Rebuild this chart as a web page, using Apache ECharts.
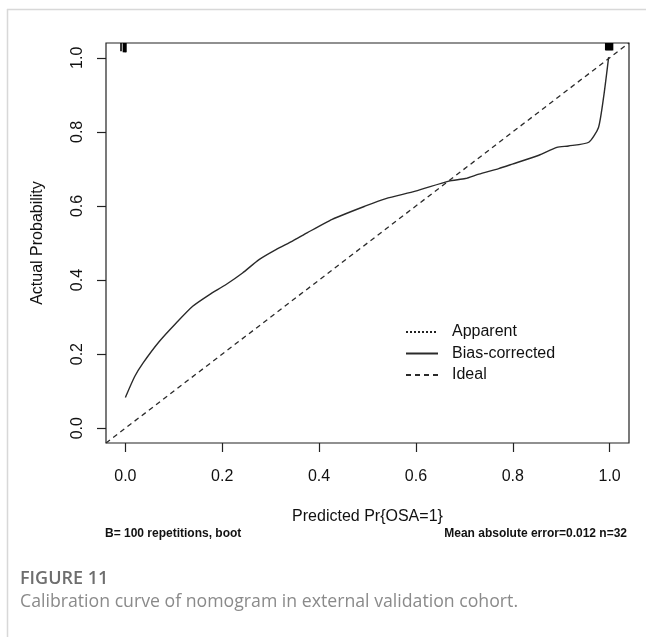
<!DOCTYPE html>
<html>
<head>
<meta charset="utf-8">
<script src="https://cdn.jsdelivr.net/npm/echarts@6/dist/echarts.min.js"></script>
<style>
  html, body { margin: 0; padding: 0; background: #fff; }
  #chart { width: 646px; height: 637px; }
</style>
</head>
<body>
<div id="chart"></div>
<script>
// Bias-corrected calibration curve (predicted vs. actual probability)
var calX = [0.000, 0.019, 0.036, 0.070, 0.105, 0.139, 0.173, 0.208, 0.242, 0.276, 0.311, 0.345, 0.376,
            0.427, 0.496, 0.538, 0.599, 0.668, 0.702, 0.730, 0.771, 0.799, 0.854, 0.891, 0.915, 0.957,
            0.977, 0.988, 0.998];
var calY = [0.083, 0.139, 0.175, 0.234, 0.284, 0.329, 0.360, 0.388, 0.419, 0.455, 0.482, 0.505, 0.528,
            0.564, 0.600, 0.620, 0.640, 0.667, 0.674, 0.686, 0.701, 0.713, 0.737, 0.758, 0.762, 0.772,
            0.812, 0.898, 1.002];
// Ideal line y = x across the plotting range
var idealX = [-0.04, 1.04];
// Rug of predicted probabilities along the top edge (position, spike length)
var rugX = [-0.009, -0.004, -0.002, 0.000, 0.001, 0.992, 0.994, 0.996, 0.998, 1.000, 1.002, 1.004, 1.006];
var rugLen = [0.022, 0.025, 0.025, 0.025, 0.025, 0.02, 0.02, 0.02, 0.02, 0.02, 0.02, 0.02, 0.02];
// Axis tick labels
var tickVals = [0, 0.2, 0.4, 0.6, 0.8, 1.0];
var axisMin = -0.04, axisMax = 1.04;

var FONT = '"Liberation Sans", Arial, sans-serif';

var chart = echarts.init(document.getElementById('chart'), null, { renderer: 'canvas' });

function fmt(v) { return Number(v).toFixed(1); }

var option = {
  animation: false,
  backgroundColor: '#fff',
  grid: {
    left: 106, right: 17, top: 43, bottom: 194,
    show: true, borderColor: '#222', borderWidth: 1.2, backgroundColor: 'transparent'
  },
  xAxis: {
    type: 'value', min: axisMin, max: axisMax,
    axisLine: { show: false, onZero: false },
    splitLine: { show: false },
    axisTick: { show: true, inside: false, length: 9, lineStyle: { color: '#222', width: 1.2 }, customValues: tickVals },
    axisLabel: { customValues: tickVals, formatter: fmt, margin: 26, fontSize: 16, color: '#111', fontFamily: FONT },
    name: 'Predicted Pr{OSA=1}', nameLocation: 'middle', nameGap: 66,
    nameTextStyle: { fontSize: 16, color: '#111', fontFamily: FONT }
  },
  yAxis: {
    type: 'value', min: axisMin, max: axisMax,
    axisLine: { show: false, onZero: false },
    splitLine: { show: false },
    axisTick: { show: true, inside: false, length: 9, lineStyle: { color: '#222', width: 1.2 }, customValues: tickVals },
    axisLabel: { customValues: tickVals, formatter: fmt, rotate: 90, margin: 20, fontSize: 16, color: '#111', fontFamily: FONT },
    name: 'Actual Probability', nameLocation: 'middle', nameGap: 60, nameRotate: 90,
    nameTextStyle: { fontSize: 16, color: '#111', fontFamily: FONT }
  },
  legend: {
    orient: 'vertical', left: 400, top: 319,
    itemWidth: 32, itemHeight: 14, itemGap: 5.5,
    itemStyle: { opacity: 0 },
    textStyle: { fontSize: 16, color: '#111', fontFamily: FONT, padding: [0, 0, 0, 9] },
    data: ['Apparent', 'Bias-corrected', 'Ideal']
  },
  series: [
    {
      name: 'Apparent', type: 'line', symbol: 'none', data: [],
      lineStyle: { color: '#222', width: 1, type: [2, 2] }
    },
    {
      name: 'Bias-corrected', type: 'line', symbol: 'none', smooth: 0.2,
      data: calX.map(function (x, i) { return [x, calY[i]]; }),
      lineStyle: { color: '#2a2a2a', width: 1.4 }
    },
    {
      name: 'Ideal', type: 'line', symbol: 'none',
      data: idealX.map(function (x) { return [x, x]; }),
      lineStyle: { color: '#2a2a2a', width: 1.3, type: [5, 4] }
    },
    {
      name: 'rug', type: 'custom', silent: true,
      data: rugX.map(function (x, i) { return [x, rugLen[i]]; }),
      renderItem: function (params, api) {
        var x = api.value(0), len = api.value(1);
        var p0 = api.coord([x, axisMax]);
        var p1 = api.coord([x, axisMax - len]);
        return {
          type: 'line',
          shape: { x1: p0[0], y1: p0[1], x2: p1[0], y2: p1[1] },
          style: { stroke: '#000', lineWidth: 1.6 }
        };
      }
    }
  ],
  graphic: [
    { type: 'line', shape: { x1: 7, y1: 9.5, x2: 646, y2: 9.5 }, style: { stroke: '#d8d8d8', lineWidth: 1.5 } },
    { type: 'line', shape: { x1: 7.5, y1: 9, x2: 7.5, y2: 637 }, style: { stroke: '#d8d8d8', lineWidth: 1.5 } },
    { type: 'text', left: 105, top: 528, style: { text: 'B= 100 repetitions, boot', font: 'bold 12px "Liberation Sans Narrow", "Arial Narrow", "Liberation Sans", sans-serif', fill: '#111' } },
    { type: 'text', right: 19, top: 528, style: { text: 'Mean absolute error=0.012 n=32', font: 'bold 12px "Liberation Sans Narrow", "Arial Narrow", "Liberation Sans", sans-serif', fill: '#111' } },
    { type: 'text', left: 20, top: 570, style: { text: 'FIGURE 11', font: '600 18px "Open Sans", sans-serif', fill: '#6e6e6e' } },
    { type: 'text', left: 20, top: 593, style: { text: 'Calibration curve of nomogram in external validation cohort.', font: '17.7px "Open Sans", sans-serif', fill: '#8a8a8a' } }
  ]
};

chart.setOption(option);
</script>
</body>
</html>
